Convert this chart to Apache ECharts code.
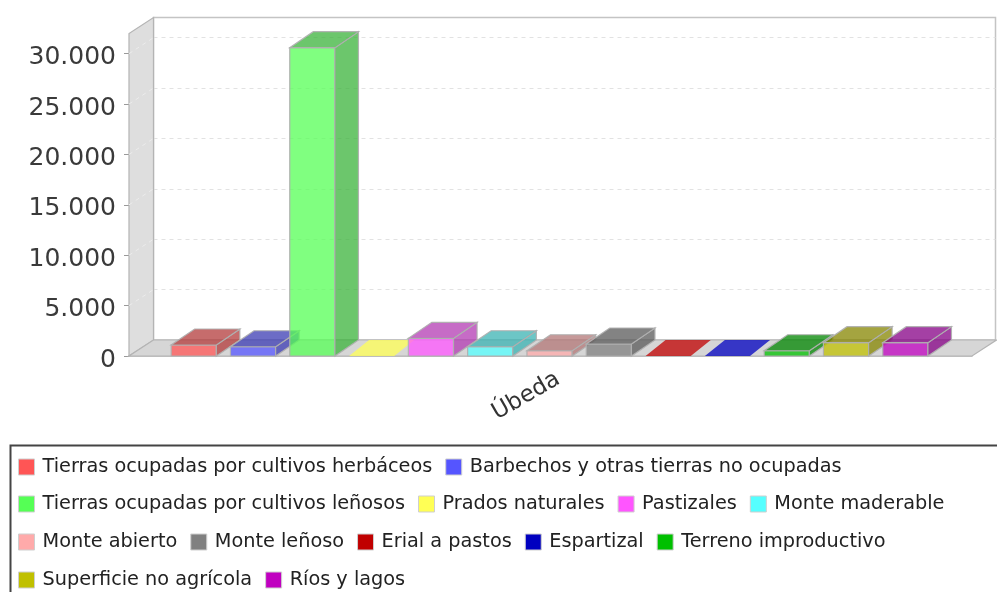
<!DOCTYPE html>
<html>
<head>
<meta charset="utf-8">
<title>Úbeda</title>
<script src="https://cdn.jsdelivr.net/npm/echarts@6/dist/echarts.min.js"></script>
<style>
  html, body { margin: 0; padding: 0; background: #fff; }
  #main { width: 997px; height: 592px; }
</style>
</head>
<body>
<div id="main"></div>
<script>
const categories = ['Úbeda']
const yTicks = [0, 5000, 10000, 15000, 20000, 25000, 30000]
const yMax = 32000

const landTypes = [
  'Tierras ocupadas por cultivos herbáceos',
  'Barbechos y otras tierras no ocupadas',
  'Tierras ocupadas por cultivos leñosos',
  'Prados naturales',
  'Pastizales',
  'Monte maderable',
  'Monte abierto',
  'Monte leñoso',
  'Erial a pastos',
  'Espartizal',
  'Terreno improductivo',
  'Superficie no agrícola',
  'Ríos y lagos'
]
const landValues = [1090, 920, 30590, 0, 1750, 920, 520, 1190, 0, 0, 520, 1320, 1320]
const landColors = ['#ff5555', '#5555ff', '#55ff55', '#ffff55', '#ff55ff', '#55ffff', '#ffaaaa',
  '#808080', '#c00000', '#0000c0', '#00c000', '#c0c000', '#c000c0']

// filas de la leyenda, igual que en la imagen
const legendRows = [
  landTypes.slice(0, 2),
  landTypes.slice(2, 6),
  landTypes.slice(6, 11),
  landTypes.slice(11)
]
const legendTops = [457.5, 494.5, 532.5, 570.5]

// profundidad del efecto 3D
const DX = 24.5
const DY = 16
const BAR_DX = 23.5
const FLAT_DX = 20
const ALPHA = 0.75
const BAR_W = 45.2
const BAR_PITCH = 59.3
const LOWER_MARGIN = 0.05

const fmtThousands = (v) => String(v).replace(/\B(?=(\d{3})+(?!\d))/g, '.')

const rgba = (hex, k) => {
  const n = parseInt(hex.slice(1), 16)
  const r = Math.round((n >> 16) * k)
  const g = Math.round(((n >> 8) & 255) * k)
  const b = Math.round((n & 255) * k)
  return `rgba(${r},${g},${b},${ALPHA})`
}

const edge = { stroke: 'rgba(176,176,176,0.95)', lineWidth: 1.2 }

const renderBar = (index) => (params, api) => {
  const base = api.coord([api.value(0), 0])
  const top = api.coord([api.value(0), api.value(1)])
  const band = api.size([1, 0])[0]
  const x = base[0] - band / 2 + band * LOWER_MARGIN + index * BAR_PITCH
  const color = landColors[index]
  const flat = api.value(1) === 0
  const dark = flat ? rgba(color, 1) : rgba(color, 0.7)
  const dx = flat ? FLAT_DX : BAR_DX
  const children = []
  if (!flat) {
    children.push({
      type: 'rect',
      shape: { x: x, y: top[1], width: BAR_W, height: base[1] - top[1] },
      style: Object.assign({ fill: rgba(color, 1) }, edge)
    })
    children.push({
      type: 'polygon',
      shape: { points: [[x + BAR_W, top[1]], [x + BAR_W + dx, top[1] - DY], [x + BAR_W + dx, base[1] - DY], [x + BAR_W, base[1]]] },
      style: Object.assign({ fill: dark }, edge)
    })
  }
  children.push({
    type: 'polygon',
    shape: { points: [[x, top[1]], [x + BAR_W, top[1]], [x + BAR_W + dx, top[1] - DY], [x + dx, top[1] - DY]] },
    style: flat ? { fill: dark } : Object.assign({ fill: dark }, edge)
  })
  return { type: 'group', children: children }
}

// paredes: lateral izquierda y suelo
const renderWalls = (params, api) => {
  const sys = params.coordSys
  const left = sys.x
  const right = sys.x + sys.width
  const bottom = sys.y + sys.height
  const top = sys.y
  const wallEdge = { stroke: '#b4b4b4', lineWidth: 1.2 }
  const children = [
    {
      type: 'polygon',
      shape: { points: [[left, bottom], [left + DX, bottom - DY], [left + DX, top - DY], [left, top]] },
      style: Object.assign({ fill: '#dedede' }, wallEdge)
    },
    {
      type: 'polygon',
      shape: { points: [[left, bottom], [right, bottom], [right + DX, bottom - DY], [left + DX, bottom - DY]] },
      style: Object.assign({ fill: '#d6d6d6' }, wallEdge)
    }
  ]
  yTicks.slice(1).forEach((t) => {
    const y = api.coord([0, t])[1]
    children.push({
      type: 'line',
      shape: { x1: left, y1: y, x2: left + DX, y2: y - DY },
      style: { stroke: '#ececec', lineWidth: 1, lineDash: [4, 4] }
    })
  })
  return { type: 'group', children: children }
}

const series = [
  {
    name: 'walls',
    type: 'custom',
    coordinateSystem: 'cartesian2d',
    xAxisIndex: 0,
    yAxisIndex: 0,
    clip: false,
    silent: true,
    renderItem: renderWalls,
    encode: { x: 0, y: 1 },
    data: [[0, 0]]
  }
]
landTypes.forEach((name, i) => {
  series.push({
    name: name,
    type: 'custom',
    coordinateSystem: 'cartesian2d',
    xAxisIndex: 0,
    yAxisIndex: 0,
    clip: false,
    itemStyle: { color: landColors[i] },
    renderItem: renderBar(i),
    encode: { x: 0, y: 1 },
    data: [[0, landValues[i]]]
  })
})

const chart = echarts.init(document.getElementById('main'))
chart.setOption({
  animation: false,
  backgroundColor: '#fff',
  textStyle: { fontFamily: 'DejaVu Sans' },
  grid: [
    // frente del gráfico
    { left: 129, right: 25, top: 33.5, height: 322.5, outerBoundsMode: 'none' },
    // pared del fondo, desplazada por la profundidad
    {
      left: 129 + DX, right: 25 - DX + 1, top: 33.5 - DY, height: 322.5, outerBoundsMode: 'none',
      show: true, backgroundColor: '#fff', borderColor: '#c4c4c4', borderWidth: 1.5
    }
  ],
  xAxis: [
    {
      type: 'category',
      gridIndex: 0,
      data: categories,
      axisLine: { lineStyle: { color: '#b4b4b4', width: 1.5 } },
      axisTick: { show: false },
      axisLabel: { rotate: 30, fontSize: 23, color: '#333', margin: 26, padding: [0, -9, 0, 0] }
    },
    { type: 'category', gridIndex: 1, data: categories, show: false }
  ],
  yAxis: [
    {
      type: 'value',
      gridIndex: 0,
      min: 0,
      max: yMax,
      axisLine: { show: true, lineStyle: { color: '#b4b4b4' } },
      axisTick: { show: true, length: 5, lineStyle: { color: '#999' }, customValues: yTicks },
      axisLabel: { fontSize: 25, color: '#3a3a3a', margin: 13, verticalAlign: 'top', lineHeight: 8, formatter: fmtThousands, customValues: yTicks },
      splitLine: { show: false }
    },
    {
      type: 'value',
      gridIndex: 1,
      min: 0,
      max: yMax,
      interval: 5000,
      axisLine: { show: false },
      axisTick: { show: false },
      axisLabel: { show: false },
      splitLine: { show: true, showMaxLine: false, lineStyle: { color: '#e2e2e2', type: [4, 4] } }
    }
  ],
  legend: legendRows.map((row, i) => ({
    data: row,
    left: 18,
    top: legendTops[i],
    padding: 0,
    itemGap: 13,
    itemWidth: 16,
    itemHeight: 16,
    icon: 'rect',
    itemStyle: { borderColor: '#cfcfcf', borderWidth: 1 },
    textStyle: { fontSize: 19.3, color: '#222', padding: [0, 0, 0, 3] }
  })),
  graphic: [
    {
      type: 'polyline',
      silent: true,
      shape: { points: [[10.5, 592], [10.5, 445.5], [997, 445.5]] },
      style: { fill: null, stroke: '#444', lineWidth: 2 }
    }
  ],
  series: series
})
</script>
</body>
</html>
